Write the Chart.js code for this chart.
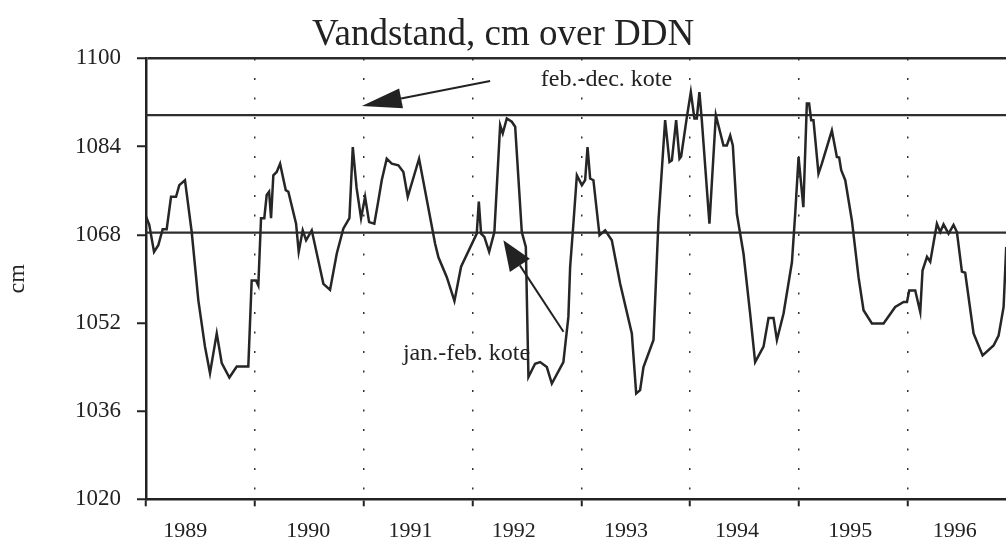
<!DOCTYPE html>
<html lang="da">
<head>
  <meta charset="UTF-8" />
  <title>Vandstand, cm over DDN</title>
  <script src="https://cdn.jsdelivr.net/npm/chart.js"></script>
  <style>
    html, body {
      margin: 0;
      padding: 0;
      background: #fff;
      overflow: hidden;
    }
    #wrap {
      position: relative;
      width: 1006px;
      height: 540px;
    }
  </style>
</head>
<body>
  <div id="wrap"><canvas id="vandChart"></canvas></div>

  <script>
    // tid i decimale år, vandstand i cm over DDN
    const tid = [
      1989.000, 1989.030, 1989.074, 1989.113, 1989.153, 1989.190, 1989.230, 1989.276, 1989.306, 1989.358,
      1989.420, 1989.481, 1989.542, 1989.588, 1989.650, 1989.696, 1989.766, 1989.834, 1989.940, 1989.971,
      1990.011, 1990.032, 1990.057, 1990.087, 1990.109, 1990.131, 1990.149, 1990.170, 1990.201, 1990.232,
      1990.284, 1990.308, 1990.379, 1990.403, 1990.440, 1990.471, 1990.523, 1990.630, 1990.691, 1990.753,
      1990.813, 1990.869, 1990.900, 1990.935, 1990.976,
      1991.013, 1991.050, 1991.098, 1991.135, 1991.166, 1991.212, 1991.258, 1991.319, 1991.365, 1991.405,
      1991.509, 1991.656, 1991.687, 1991.764, 1991.834, 1991.895,
      1992.039, 1992.058, 1992.079, 1992.109, 1992.153, 1992.201, 1992.254, 1992.278, 1992.315, 1992.361,
      1992.392, 1992.453, 1992.490, 1992.514, 1992.575, 1992.621, 1992.683, 1992.729, 1992.835, 1992.881,
      1992.897, 1992.927, 1992.959,
      1993.005, 1993.035, 1993.057, 1993.081, 1993.111, 1993.167, 1993.219, 1993.280, 1993.357, 1993.464,
      1993.504, 1993.540, 1993.571, 1993.663, 1993.709, 1993.770, 1993.810, 1993.832, 1993.871, 1993.902,
      1993.917, 1993.970,
      1994.006, 1994.039, 1994.061, 1994.085, 1994.107, 1994.177, 1994.236, 1994.306, 1994.337, 1994.368,
      1994.392, 1994.429, 1994.490, 1994.551, 1994.597, 1994.674, 1994.720, 1994.766, 1994.797, 1994.858,
      1994.935, 1994.965, 1994.996,
      1995.040, 1995.072, 1995.093, 1995.112, 1995.133, 1995.179, 1995.210, 1995.302, 1995.348, 1995.369,
      1995.388, 1995.425, 1995.486, 1995.547, 1995.593, 1995.670, 1995.777, 1995.884, 1995.961, 1995.992,
      1996.013, 1996.068, 1996.114, 1996.135, 1996.176, 1996.206, 1996.267, 1996.298, 1996.328, 1996.374,
      1996.420, 1996.451, 1996.497, 1996.527, 1996.604, 1996.687, 1996.788, 1996.834, 1996.880, 1996.904
    ];
    const vandstand = [
      1071.3, 1069.8, 1064.9, 1066.1, 1069.0, 1069.0, 1074.9, 1074.9, 1077.0, 1077.9,
      1068.5, 1056.1, 1047.7, 1042.9, 1050.1, 1044.7, 1042.1, 1044.1, 1044.1, 1059.7,
      1059.7, 1058.8, 1071.0, 1071.0, 1075.2, 1075.8, 1071.0, 1078.8, 1079.4, 1080.9,
      1076.1, 1075.8, 1070.0, 1064.9, 1068.8, 1067.0, 1068.8, 1059.1, 1058.0, 1064.6,
      1069.1, 1071.0, 1083.9, 1076.5, 1071.0,
      1074.9, 1070.3, 1070.0, 1074.2, 1077.9, 1081.8, 1080.9, 1080.6, 1079.4, 1074.9,
      1081.8, 1066.4, 1063.9, 1060.3, 1056.0, 1062.2,
      1068.2, 1074.0, 1068.2, 1067.6, 1064.9, 1068.5, 1087.9, 1086.4, 1089.1, 1088.5,
      1087.6, 1068.5, 1065.8, 1042.2, 1044.6, 1044.9, 1044.0, 1041.0, 1044.9, 1053.1,
      1062.1, 1070.0, 1078.8,
      1077.0, 1077.9, 1083.9, 1078.2, 1077.9, 1067.9, 1068.8, 1067.0, 1059.1, 1050.1,
      1039.2, 1039.8, 1044.0, 1048.9, 1070.6, 1088.8, 1081.2, 1081.5, 1088.8, 1081.8,
      1082.2, 1089.4,
      1093.9, 1089.1, 1089.1, 1093.9, 1088.8, 1070.0, 1089.7, 1084.2, 1084.2, 1086.0,
      1084.2, 1071.8, 1064.6, 1053.7, 1044.9, 1047.7, 1052.9, 1052.9, 1048.9, 1053.7,
      1063.0, 1071.8, 1082.1,
      1073.0, 1091.8, 1091.8, 1088.8, 1088.8, 1079.1, 1080.9, 1086.9, 1082.1, 1082.0,
      1079.7, 1077.9, 1070.6, 1060.3, 1054.3, 1051.9, 1051.9, 1054.9, 1055.8, 1055.8,
      1057.9, 1057.9, 1054.0, 1061.5, 1064.0, 1063.1, 1070.0, 1068.5, 1069.9, 1068.2,
      1069.8, 1068.5, 1061.3, 1061.1, 1050.1, 1046.1, 1047.9, 1049.7, 1054.9, 1065.8
    ];

    const yTicks = [1020, 1036, 1052, 1068, 1084, 1100];
    const aarstal = ['1989', '1990', '1991', '1992', '1993', '1994', '1995', '1996'];
    const aarPos = [1989.36, 1990.49, 1991.43, 1992.38, 1993.41, 1994.43, 1995.47, 1996.43];
    const xMin = 1989;
    const xMax = 1996.902;

    const koteFebDec = 1089.7;
    const koteJanFeb = 1068.4;

    // pile og tekst til koterne (i data-enheder)
    const pile = [
      { tekst: 'feb.-dec. kote', tekstVed: [1993.231, 1096.2], fra: [1992.162, 1095.9], til: [1990.983, 1091.35], laengde: 40, bredde: 10 },
      { tekst: 'jan.-feb. kote', tekstVed: [1991.945, 1046.5], fra: [1992.836, 1050.4], til: [1992.284, 1067.0], laengde: 30, bredde: 12 }
    ];

    const serif = '"Liberation Serif", "Times New Roman", serif';
    const ink = '#222';

    const pilePlugin = {
      id: 'pile',
      afterDatasetsDraw(chart) {
        const { ctx, scales: { x, y } } = chart;
        ctx.save();
        ctx.strokeStyle = ink;
        ctx.fillStyle = ink;
        ctx.lineWidth = 2;
        pile.forEach(p => {
          const x0 = x.getPixelForValue(p.fra[0]), y0 = y.getPixelForValue(p.fra[1]);
          const x1 = x.getPixelForValue(p.til[0]), y1 = y.getPixelForValue(p.til[1]);
          const len = Math.hypot(x1 - x0, y1 - y0);
          const ux = (x1 - x0) / len, uy = (y1 - y0) / len;
          const bx = x1 - ux * p.laengde, by = y1 - uy * p.laengde;
          ctx.beginPath();
          ctx.moveTo(x0, y0);
          ctx.lineTo(bx, by);
          ctx.stroke();
          ctx.beginPath();
          ctx.moveTo(x1, y1);
          ctx.lineTo(bx - uy * p.bredde, by + ux * p.bredde);
          ctx.lineTo(bx + uy * p.bredde, by - ux * p.bredde);
          ctx.closePath();
          ctx.fill();

          ctx.font = '24px ' + serif;
          ctx.textAlign = 'center';
          ctx.textBaseline = 'middle';
          ctx.fillText(p.tekst, x.getPixelForValue(p.tekstVed[0]), y.getPixelForValue(p.tekstVed[1]));
        });
        ctx.restore();
      }
    };

    const ctx = document.getElementById('vandChart').getContext('2d');
    new Chart(ctx, {
      type: 'line',
      data: {
        datasets: [
          {
            data: tid.map((t, i) => ({ x: t, y: vandstand[i] })),
            borderColor: '#262626',
            borderWidth: 2.5,
            pointRadius: 0,
            tension: 0
          },
          {
            data: [{ x: xMin, y: koteFebDec }, { x: xMax, y: koteFebDec }],
            borderColor: '#2e2e2e',
            borderWidth: 2.2,
            pointRadius: 0
          },
          {
            data: [{ x: xMin, y: koteJanFeb }, { x: xMax, y: koteJanFeb }],
            borderColor: '#2e2e2e',
            borderWidth: 2.2,
            pointRadius: 0
          }
        ]
      },
      options: {
        responsive: true,
        maintainAspectRatio: false,
        animation: false,
        layout: { padding: 0 },
        plugins: {
          legend: { display: false },
          tooltip: { enabled: false },
          title: {
            display: true,
            text: 'Vandstand, cm over DDN',
            color: ink,
            font: { family: serif, size: 37, weight: 'normal' },
            padding: { top: 13, bottom: 1 }
          }
        },
        scales: {
          x: {
            type: 'linear',
            position: 'bottom',
            min: xMin,
            max: xMax,
            afterBuildTicks: s => {
              s.ticks = aarstal.map(a => ({ value: Number(a) }));
            },
            afterFit: s => { s.height = 7; },
            ticks: { display: false },
            grid: {
              color: '#333',
              lineWidth: 1.5,
              tickLength: 7,
              tickColor: '#222',
              tickWidth: 2,
              tickBorderDash: []
            },
            border: { display: true, color: ink, width: 2.5, dash: [2, 17.5] }
          },
          xl: {
            type: 'linear',
            position: 'bottom',
            min: xMin,
            max: xMax,
            afterBuildTicks: s => {
              s.ticks = aarPos.map(v => ({ value: v }));
            },
            afterFit: s => { s.height = 33.7; },
            grid: { display: false, drawTicks: false },
            border: { display: false },
            ticks: {
              autoSkip: false,
              maxRotation: 0,
              padding: 12,
              color: ink,
              font: { family: serif, size: 22 },
              callback: (v, i) => aarstal[i]
            }
          },
          y: {
            type: 'linear',
            min: 1020,
            max: 1100,
            afterBuildTicks: s => {
              s.ticks = yTicks.map(v => ({ value: v }));
            },
            afterFit: s => { s.width = 146; },
            ticks: {
              color: ink,
              padding: 16,
              font: { family: serif, size: 23 },
              callback: v => String(v)
            },
            grid: {
              color: c => (c.tick && c.tick.value === 1100 ? '#2a2a2a' : 'rgba(0,0,0,0)'),
              lineWidth: 2.5,
              tickLength: 9,
              tickColor: '#222',
              tickWidth: 2
            },
            border: { display: true, color: ink, width: 2.5, dash: [] },
            title: {
              display: true,
              text: 'cm',
              color: ink,
              font: { family: serif, size: 24 },
              padding: { top: 3, bottom: 0 }
            }
          }
        }
      },
      plugins: [pilePlugin]
    });
  </script>
</body>
</html>
